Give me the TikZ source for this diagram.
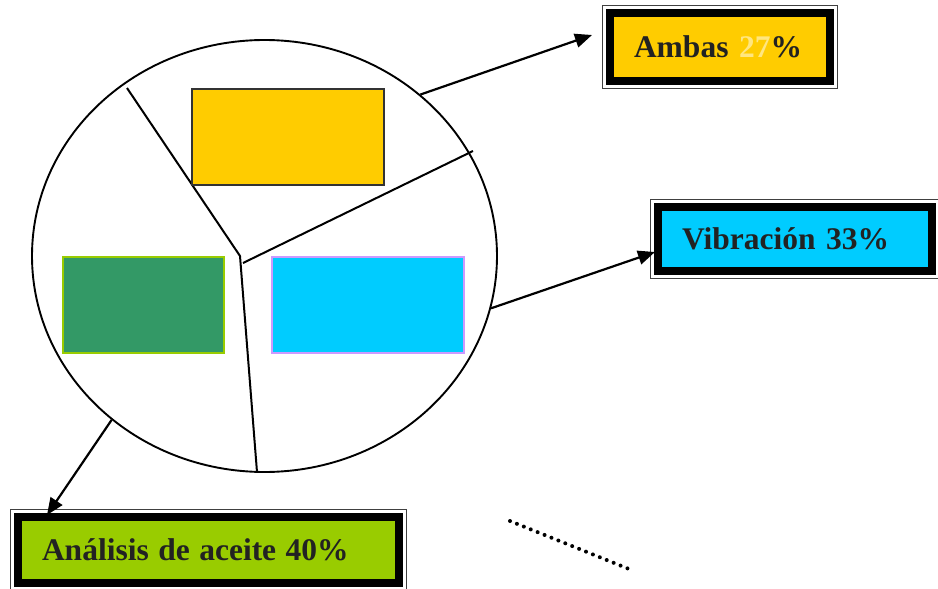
\documentclass[tikz,border=0pt]{standalone}
\usepackage{fontspec}
\setmainfont{Liberation Serif}
\usepackage{tikz}
\usetikzlibrary{arrows.meta, positioning, shapes.geometric}
\definecolor{Amarillo}{RGB}{255,204,0}
\definecolor{Celeste}{RGB}{0,204,255}
\definecolor{Lima}{RGB}{153,204,0}
\definecolor{Verde}{RGB}{51,153,102}
\definecolor{Lila}{RGB}{204,153,255}
\definecolor{Palido}{RGB}{255,230,128}
\definecolor{Texto}{RGB}{34,34,34}

\begin{document}
\begin{tikzpicture}[
  x=1pt, y=-1pt,
  lbl/.style={
    rectangle, draw=black, line width=8pt,
    font=\fontsize{31.5}{32}\selectfont\bfseries, text=Texto,
    align=left, inner xsep=24pt, inner ysep=0pt
  },
  frm/.style={draw=black!75, line width=1.1pt},
  sector/.style={rectangle, line width=1.8pt, inner sep=0pt},
  div/.style={line width=2pt},
  flecha/.style={
    -{Triangle[length=17pt, width=14pt]},
    line width=2.2pt
  }
]
\useasboundingbox (0,0) rectangle (938,589);

%% ── Corona ───────────────────────────────────────────────────────────────
\node[ellipse, draw, line width=1.9pt, inner sep=0pt,
      minimum width=465pt, minimum height=432pt] (pie) at (264.5,256) {};

%% divisiones del círculo
\draw[div] (127,88) -- (240,256) -- (257,472);
\draw[div] (243,263) -- (473,151);

%% ── Sectores ─────────────────────────────────────────────────────────────
\node[sector, draw=black!80, fill=Amarillo,
      minimum width=192pt, minimum height=96pt] (amb) at (288,137) {};
\node[sector, draw=Lima, fill=Verde,
      minimum width=161pt, minimum height=96pt] (ace) at (143.5,305) {};
\node[sector, draw=Lila, fill=Celeste,
      minimum width=192pt, minimum height=96pt] (vib) at (368,305) {};

%% ── Etiquetas ────────────────────────────────────────────────────────────
\node[lbl, fill=Amarillo, text width=172pt,
      minimum width=220pt, minimum height=68pt] (tamb) at (720,47)
  {Ambas \textcolor{Palido}{27}\%};
\node[lbl, fill=Celeste, text width=226pt,
      minimum width=274pt, minimum height=64pt] (tvib) at (795,239)
  {Vibración 33\%};
\node[lbl, fill=Lima, text width=333pt,
      minimum width=381pt, minimum height=66pt] (tace) at (208.5,550)
  {Análisis\hspace{-1pt} de\hspace{-1pt} aceite\hspace{-1pt} 40\%};

%% marcos finos exteriores
\foreach \n in {tamb, tvib, tace}
  \draw[frm] ([shift={(-3.5pt,3.5pt)}]\n.north west)
    rectangle ([shift={(3.5pt,-3.5pt)}]\n.south east);

%% ── Flechas ──────────────────────────────────────────────────────────────
\coordinate (pamb) at (592,35);
\coordinate (pvib) at (655,252);
\coordinate (pace) at (47,515);

\draw[flecha] (pie.46.5) -- (pamb);
\draw[flecha] (pie.-13)  -- (pvib);
\draw[flecha] (pie.227)  -- (pace);

%% línea punteada
\coordinate (d1) at (510,521);
\coordinate (d2) at (629,569);
\draw[line width=4pt, line cap=round, dash pattern=on 0pt off 7.45pt] (d1) -- (d2);

\end{tikzpicture}
\end{document}
